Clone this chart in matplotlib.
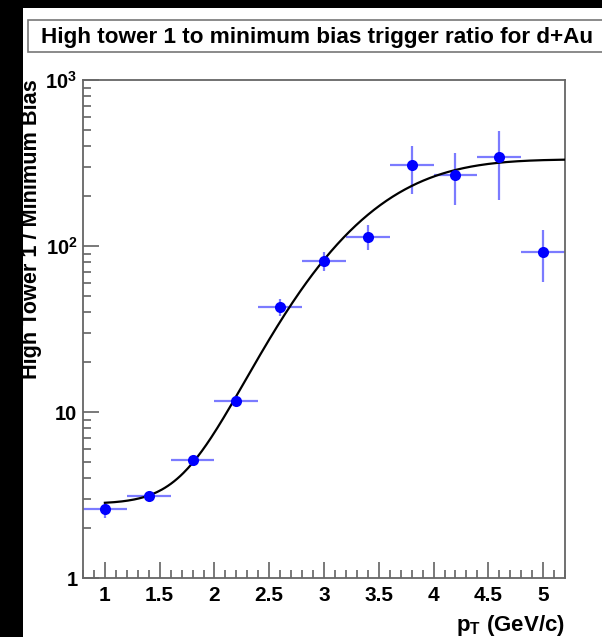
import math
import numpy as np
import matplotlib
matplotlib.use("Agg")
import matplotlib.pyplot as plt
from matplotlib.patches import Rectangle
from matplotlib.ticker import FixedLocator, FixedFormatter, MultipleLocator, LogLocator, NullFormatter

# ---- data ----
pt = [1.0, 1.4, 1.8, 2.2, 2.6, 3.0, 3.4, 3.8, 4.2, 4.6, 5.0]
pt_err = [0.2, 0.2, 0.2, 0.2, 0.2, 0.2, 0.2, 0.2, 0.2, 0.2, 0.2]
ratio = [2.59, 3.11, 5.12, 11.6, 42.8, 81.7, 114, 307, 269, 345, 92.5]
ratio_err_lo = [0.30, 0.15, 0.3, 0.8, 5, 10.6, 20, 100, 92, 157, 32]
ratio_err_hi = [0.29, 0.15, 0.3, 0.8, 5, 10.0, 19, 94, 92, 149, 31.5]

# fit function parameters (p0 + p1 * (1 + erf((x - p2) / p3)) / 2)
fit_p0 = 2.8
fit_p1 = 330.0
fit_p2 = 3.47
fit_p3 = 0.95
fit_range = [1.0, 5.2]

xticks = [1, 1.5, 2, 2.5, 3, 3.5, 4, 4.5, 5]
xtick_labels = ["1", "1.5", "2", "2.5", "3", "3.5", "4", "4.5", "5"]
yticks = [1, 10, 100, 1000]
ytick_labels = ["1", "10", r"$\mathbf{10^{2}}$", r"$\mathbf{10^{3}}$"]

title = "High tower 1 to minimum bias trigger ratio for d+Au"
xlabel = r"p$_\mathbf{T}$ (GeV/c)"
ylabel = "High Tower 1 / Minimum Bias"

# ---- styling ----
plt.rcParams["font.family"] = ["Liberation Sans", "DejaVu Sans"]
plt.rcParams["font.weight"] = "bold"
plt.rcParams["mathtext.fontset"] = "custom"
plt.rcParams["mathtext.rm"] = "Liberation Sans:bold"
plt.rcParams["mathtext.bf"] = "Liberation Sans:bold"
plt.rcParams["mathtext.it"] = "Liberation Sans:bold"

W, H = 602, 637
fig = plt.figure(figsize=(W / 100, H / 100), dpi=100, facecolor="black")

# white canvas
fig.add_artist(Rectangle((23 / W, 0), 1.0, 1 - 8 / H, transform=fig.transFigure,
                         facecolor="white", edgecolor="none", zorder=0))
# title box
fig.add_artist(Rectangle((28 / W, 1 - 52 / H), 1.0, 32 / H, transform=fig.transFigure,
                         facecolor="white", edgecolor="#777777", linewidth=1.2, zorder=1))
fig.text(41 / W, 1 - 37 / H, title, ha="left", va="center", fontsize=16.2,
         fontweight="bold", color="black", zorder=2)

ax = fig.add_axes([83 / W, 1 - 578 / H, (565 - 83) / W, (578 - 80) / H])
ax.set_facecolor("white")

x = np.array(pt)
y = np.array(ratio)
ax.errorbar(x, y, xerr=pt_err, yerr=[ratio_err_lo, ratio_err_hi], fmt="none",
            ecolor="#7b7bff", elinewidth=1.6, capsize=0, zorder=2)
ax.plot(x, y, "o", color="#0000ff", markersize=8, markeredgewidth=0, zorder=4)

xf = np.linspace(fit_range[0], fit_range[1], 300)
yf = fit_p0 + fit_p1 * (1 + np.array([math.erf((v - fit_p2) / fit_p3) for v in xf])) / 2
ax.plot(xf, yf, color="black", linewidth=1.6, zorder=3)

ax.set_yscale("log")
ax.set_xlim(0.8, 5.2)
ax.set_ylim(1, 1000)

ax.xaxis.set_major_locator(FixedLocator(xticks))
ax.xaxis.set_major_formatter(FixedFormatter(xtick_labels))
ax.xaxis.set_minor_locator(MultipleLocator(0.1))
ax.yaxis.set_major_locator(FixedLocator(yticks))
ax.yaxis.set_major_formatter(FixedFormatter(ytick_labels))
ax.yaxis.set_minor_locator(LogLocator(base=10, subs=np.arange(2, 10)))
ax.yaxis.set_minor_formatter(NullFormatter())

ax.tick_params(which="major", direction="in", length=11.5, width=1.1, color="#555555",
               labelsize=15, top=False, right=False)
ax.tick_params(which="minor", direction="in", length=5.8, width=1.1, color="#555555",
               top=False, right=False)
ax.tick_params(axis="x", which="major", pad=6)
ax.tick_params(axis="y", which="major", pad=4, labelsize=14.5)
for lab in ax.get_xticklabels() + ax.get_yticklabels():
    lab.set_fontweight("bold")

for s in ax.spines.values():
    s.set_color("#666666")
    s.set_linewidth(1.3)

fig.text(565 / W, 1 - 626 / H, xlabel, ha="right", va="center", fontsize=16, fontweight="bold")
fig.text(32 / W, 1 - 79 / H, ylabel, ha="center", va="top", rotation=90,
         fontsize=15.6, fontweight="bold")

fig.savefig("out.png", dpi=100, facecolor=fig.get_facecolor())
